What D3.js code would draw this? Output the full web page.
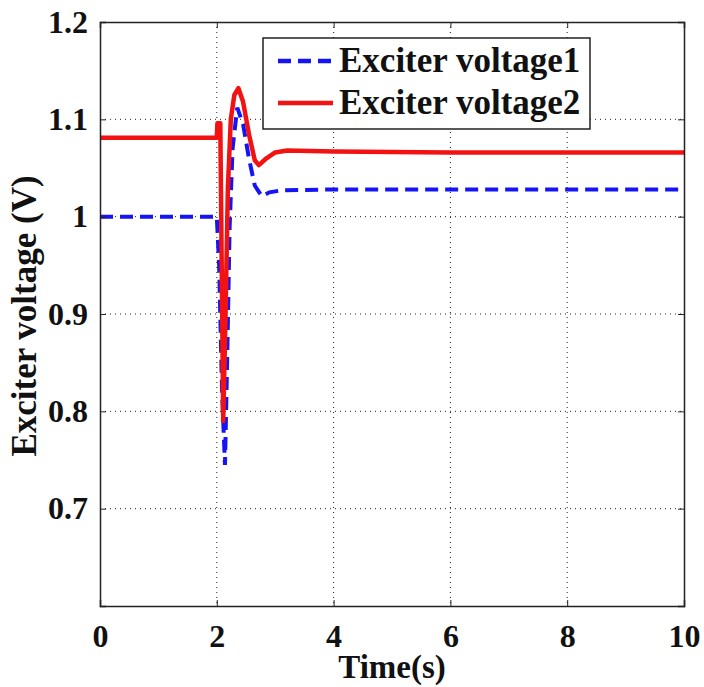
<!DOCTYPE html>
<html>
<head>
<meta charset="utf-8">
<script src="https://cdn.jsdelivr.net/npm/d3@7"></script>
<style>
  body { margin: 0; background: #fff; }
  svg text { font-family: "Liberation Serif", "Times New Roman", serif; font-weight: bold; fill: #111; }
</style>
</head>
<body>
<div id="chart"></div>
<script>
// Data
const seriesNames = ["Exciter voltage1", "Exciter voltage2"];

const timeV1 = [0, 2.0, 2.04, 2.09, 2.14, 2.18, 2.22, 2.27, 2.35, 2.45, 2.55, 2.65, 2.77, 2.9, 3.1, 4, 6, 8, 10];
const voltV1 = [1.0, 1.0, 0.95, 0.82, 0.745, 0.86, 0.99, 1.07, 1.112, 1.095, 1.06, 1.032, 1.021, 1.025, 1.027, 1.028, 1.028, 1.028, 1.028];

const timeV2 = [0, 2.0, 2.01, 2.06, 2.11, 2.15, 2.19, 2.24, 2.3, 2.37, 2.45, 2.55, 2.65, 2.72, 2.85, 3.0, 3.2, 4, 6, 8, 10];
const voltV2 = [1.081, 1.081, 1.096, 1.096, 0.79, 0.9, 1.03, 1.1, 1.125, 1.132, 1.118, 1.085, 1.058, 1.053, 1.06, 1.066, 1.068, 1.067, 1.066, 1.066, 1.066];

const xTicks = [0, 2, 4, 6, 8, 10];
const yTicks = [0.6, 0.7, 0.8, 0.9, 1.0, 1.1, 1.2];
const yTickLabels = ["", "0.7", "0.8", "0.9", "1", "1.1", "1.2"];

const width = 704, height = 687;
const margin = { top: 22, right: 20, bottom: 81, left: 100 };
const innerW = width - margin.left - margin.right;
const innerH = height - margin.top - margin.bottom;

const svg = d3.select("#chart").append("svg")
  .attr("width", width)
  .attr("height", height);

const g = svg.append("g").attr("transform", `translate(${margin.left},${margin.top})`);

const x = d3.scaleLinear().domain([0, 10]).range([0, innerW]);
const y = d3.scaleLinear().domain([0.6, 1.2]).range([innerH, 0]);

// Dotted grid
g.append("g").selectAll("line.gx")
  .data(xTicks.slice(1, -1))
  .enter().append("line")
  .attr("x1", d => x(d)).attr("x2", d => x(d))
  .attr("y1", 0).attr("y2", innerH)
  .attr("stroke", "#222").attr("stroke-width", 1)
  .attr("stroke-dasharray", "1,4");

g.append("g").selectAll("line.gy")
  .data(yTicks.slice(1, -1))
  .enter().append("line")
  .attr("x1", 0).attr("x2", innerW)
  .attr("y1", d => y(d)).attr("y2", d => y(d))
  .attr("stroke", "#222").attr("stroke-width", 1)
  .attr("stroke-dasharray", "1,4");

// Lines
const line = d3.line().x(d => x(d[0])).y(d => y(d[1]));
svg.append("clipPath").attr("id", "clip")
  .append("rect").attr("width", innerW).attr("height", innerH);

const plot = g.append("g").attr("clip-path", "url(#clip)");

const blue = "#1414f5", red = "#f21212";

plot.append("path")
  .datum(d3.zip(timeV1, voltV1))
  .attr("d", line)
  .attr("fill", "none")
  .attr("stroke", blue)
  .attr("stroke-width", 4)
  .attr("stroke-dasharray", "13,7");

plot.append("path")
  .datum(d3.zip(timeV2, voltV2))
  .attr("d", line)
  .attr("fill", "none")
  .attr("stroke", red)
  .attr("stroke-width", 4.5)
  .attr("stroke-linejoin", "round");

// Axes (MATLAB style box with inward ticks)
const tickLen = 6;
const axB = g.append("g").attr("transform", `translate(0,${innerH})`)
  .call(d3.axisBottom(x).tickValues(xTicks).tickSize(-tickLen).tickPadding(14).tickFormat(d3.format("d")));
const axT = g.append("g")
  .call(d3.axisTop(x).tickValues(xTicks).tickSize(-tickLen).tickFormat(""));
const axL = g.append("g")
  .call(d3.axisLeft(y).tickValues(yTicks).tickSize(-tickLen).tickPadding(12)
    .tickFormat((d, i) => yTickLabels[i]));
const axR = g.append("g").attr("transform", `translate(${innerW},0)`)
  .call(d3.axisRight(y).tickValues(yTicks).tickSize(-tickLen).tickFormat(""));

[axB, axT, axL, axR].forEach(a => {
  a.select(".domain").attr("stroke", "#222").attr("stroke-width", 1.5);
  a.selectAll(".tick line").attr("stroke", "#222");
  a.selectAll("text").attr("font-size", 32).attr("fill", "#111")
    .attr("font-family", "Liberation Serif, Times New Roman, serif").attr("font-weight", "bold");
});
axB.selectAll(".tick text").attr("dy", "0.85em");

// Axis titles
svg.append("text")
  .attr("x", margin.left + innerW / 2).attr("y", 678)
  .attr("text-anchor", "middle")
  .attr("font-size", 33)
  .text("Time(s)");

svg.append("text")
  .attr("transform", "translate(36,316) rotate(-90)")
  .attr("text-anchor", "middle")
  .attr("font-size", 35)
  .text("Exciter voltage (V)");

// Legend
const legend = svg.append("g");
legend.append("rect")
  .attr("x", 263).attr("y", 38).attr("width", 327).attr("height", 91)
  .attr("fill", "#fff").attr("stroke", "#222").attr("stroke-width", 1.5);

const legendColors = [blue, red];
const legendDash = ["13,7", null];
seriesNames.forEach((name, i) => {
  const ly = 61 + i * 42;
  legend.append("line")
    .attr("x1", 278).attr("x2", 333).attr("y1", ly).attr("y2", ly)
    .attr("stroke", legendColors[i]).attr("stroke-width", 4.5)
    .attr("stroke-dasharray", legendDash[i]);
  legend.append("text")
    .attr("x", 339).attr("y", ly + 11)
    .attr("font-size", 35)
    .text(name);
});
</script>
</body>
</html>
